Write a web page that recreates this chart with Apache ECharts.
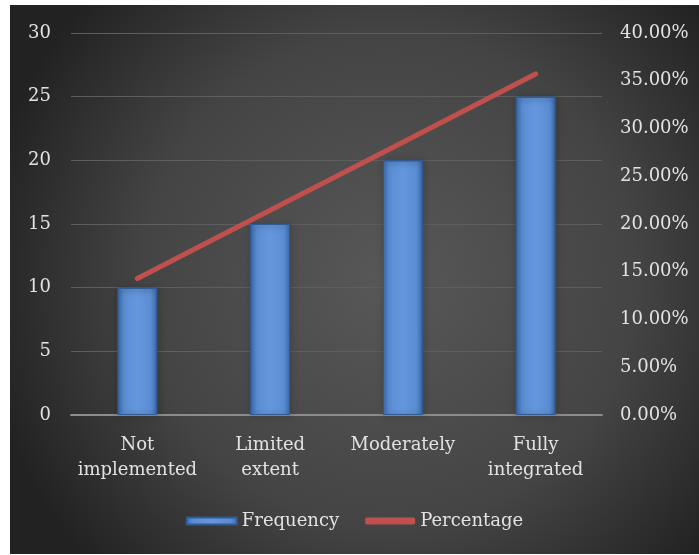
<!DOCTYPE html>
<html>
<head>
<meta charset="utf-8">
<script src="https://cdn.jsdelivr.net/npm/echarts@6/dist/echarts.min.js"></script>
<style>
  html, body { margin: 0; padding: 0; background: #ffffff; }
  #chart { position: absolute; left: 10px; top: 5px; width: 689px; height: 549px; }
</style>
</head>
<body>
<div id="chart"></div>
<script>
// Adoption level categories
const categories = ['Not\nimplemented', 'Limited\nextent', 'Moderately', 'Fully\nintegrated'];
// Respondent counts per level
const frequency = [10, 15, 20, 25];
// Share of respondents per level (%)
const percentage = [14.29, 21.43, 28.57, 35.71];
// Axis tick settings
const freqTicks = { min: 0, max: 30, interval: 5 };
const pctTicks = { min: 0, max: 40, interval: 5 };

const FONT = 'DejaVu Serif';
const TEXT = '#e2e2e2';
const RED = '#c0504d';

const chart = echarts.init(document.getElementById('chart'));

const barFill = new echarts.graphic.LinearGradient(0, 0, 1, 0, [
  { offset: 0, color: '#3f6fb3' },
  { offset: 0.15, color: '#5a8dd3' },
  { offset: 0.5, color: '#6497dc' },
  { offset: 0.85, color: '#5a8dd3' },
  { offset: 1, color: '#3f6fb3' }
]);

chart.setOption({
  backgroundColor: new echarts.graphic.RadialGradient(0.55, 0.5, 0.75, [
    { offset: 0, color: '#585858' },
    { offset: 0.6, color: '#444444' },
    { offset: 1, color: '#222222' }
  ]),
  textStyle: { fontFamily: FONT, color: TEXT },
  grid: { left: 61, right: 97, top: 28, bottom: 139 },
  legend: {
    bottom: 19,
    left: 'center',
    itemGap: 26,
    itemWidth: 50,
    itemHeight: 7,
    textStyle: { fontFamily: FONT, fontSize: 18, color: TEXT },
    data: [
      { name: 'Frequency', icon: 'rect' },
      { name: 'Percentage', icon: 'roundRect', itemStyle: { color: RED } }
    ]
  },
  xAxis: {
    type: 'category',
    data: categories,
    axisTick: { show: false },
    axisLine: { lineStyle: { color: '#8c8c8c', width: 2 } },
    axisLabel: { interval: 0, fontFamily: FONT, fontSize: 18, color: TEXT, margin: 18, lineHeight: 25 }
  },
  yAxis: [
    {
      type: 'value',
      min: freqTicks.min, max: freqTicks.max, interval: freqTicks.interval,
      axisLine: { show: false },
      axisTick: { show: false },
      axisLabel: { fontFamily: FONT, fontSize: 18, color: TEXT, margin: 20 },
      splitLine: { lineStyle: { color: '#5e5e5e', width: 1 } }
    },
    {
      type: 'value',
      min: pctTicks.min, max: pctTicks.max, interval: pctTicks.interval,
      axisLine: { show: false },
      axisTick: { show: false },
      splitLine: { show: false },
      axisLabel: {
        fontFamily: FONT, fontSize: 18, color: TEXT, margin: 18,
        formatter: v => v.toFixed(2) + '%'
      }
    }
  ],
  series: [
    {
      name: 'Frequency',
      type: 'bar',
      data: frequency,
      barWidth: '30%',
      itemStyle: {
        color: barFill,
        borderColor: '#2f5a94',
        borderWidth: 1,
        shadowColor: 'rgba(0,0,0,0.55)',
        shadowBlur: 6,
        shadowOffsetX: 1,
        shadowOffsetY: 1
      }
    },
    {
      name: 'Percentage',
      type: 'line',
      yAxisIndex: 1,
      data: percentage,
      symbol: 'none',
      itemStyle: { color: RED },
      lineStyle: { color: RED, width: 5, cap: 'round' },
      z: 5
    }
  ]
});
</script>
</body>
</html>
